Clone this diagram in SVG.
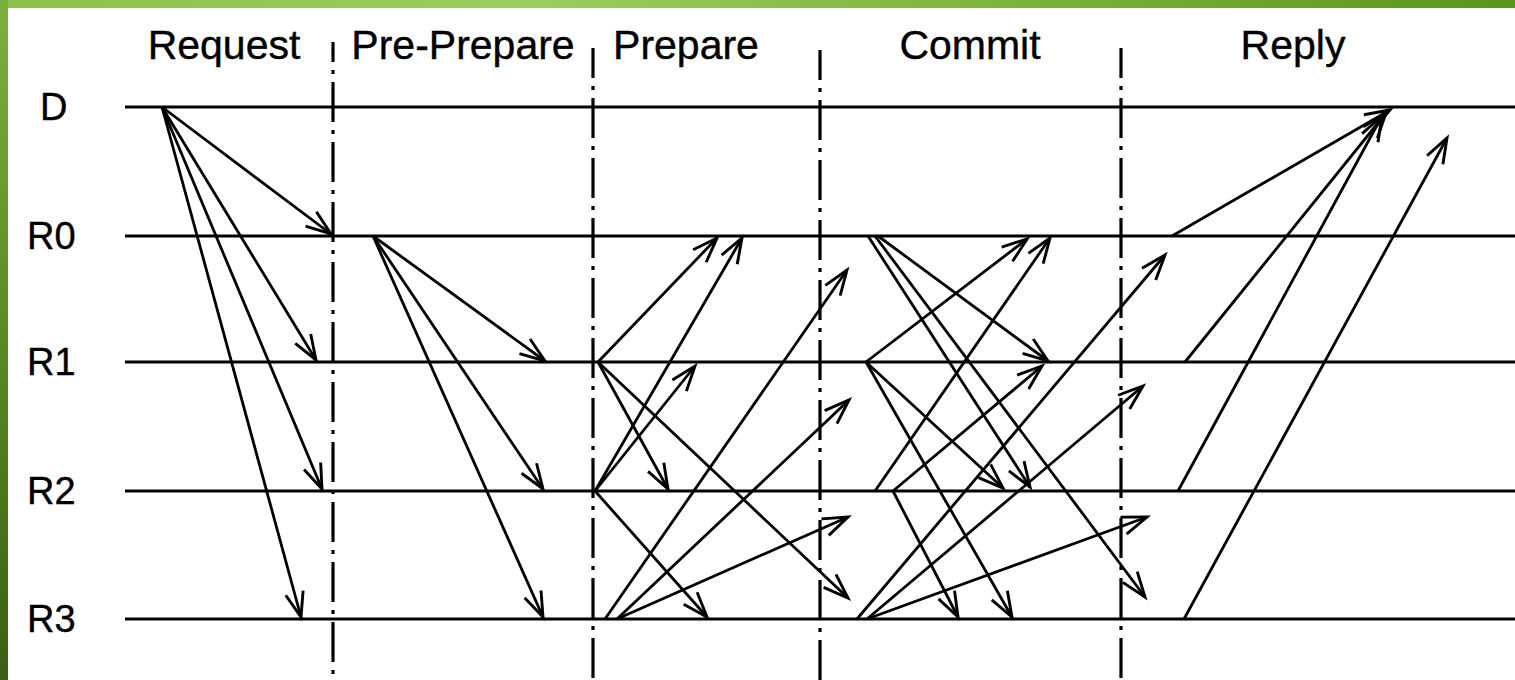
<svg xmlns="http://www.w3.org/2000/svg" width="1515" height="680" viewBox="0 0 1515 680">
  <style>
    .lbl { font-family: "Liberation Sans", Arial, Helvetica, sans-serif; font-size: 38px; fill: #000; stroke: #000; stroke-width: 0.4; }
    .hdr { font-family: "Liberation Sans", Arial, Helvetica, sans-serif; font-size: 41px; fill: #000; stroke: #000; stroke-width: 0.4; text-anchor: middle; }
    .life { stroke: #000; stroke-width: 3; fill: none; }
    .div { stroke: #000; stroke-width: 3.2; stroke-dasharray: 40 8 4 8; fill: none; }
    .msg { stroke: #000; stroke-width: 2.8; fill: none; marker-end: url(#ah); }
  </style>
  <defs>
    <marker id="ah" markerUnits="userSpaceOnUse" viewBox="-30 -15 35 30" markerWidth="35" markerHeight="30" refX="0" refY="0" orient="auto" overflow="visible">
      <path d="M -25,-9 L 0,0 L -25,9" fill="none" stroke="#000" stroke-width="2.9" stroke-linejoin="miter"/>
    </marker>
    <linearGradient id="gTop" x1="0" y1="0" x2="1" y2="0">
      <stop offset="0" stop-color="#8cc04c"/>
      <stop offset="0.35" stop-color="#9ccd5e"/>
      <stop offset="1" stop-color="#5a961c"/>
    </linearGradient>
    <linearGradient id="gLeft" x1="0" y1="0" x2="0" y2="1">
      <stop offset="0" stop-color="#7bb03e"/>
      <stop offset="0.5" stop-color="#5a8a24"/>
      <stop offset="1" stop-color="#3b5f14"/>
    </linearGradient>
  </defs>

  <rect x="0" y="0" width="1515" height="680" fill="#fff"/>
  <g id="frame">
    <rect x="0" y="0" width="1515" height="8" fill="url(#gTop)"/>
    <rect x="0" y="0" width="8" height="680" fill="url(#gLeft)"/>
  </g>

  <g id="phase-headers">
    <g id="hdr-request"><text class="hdr" x="224" y="59">Request</text></g>
    <g id="hdr-preprepare"><text class="hdr" x="463" y="59">Pre-Prepare</text></g>
    <g id="hdr-prepare"><text class="hdr" x="686" y="59">Prepare</text></g>
    <g id="hdr-commit"><text class="hdr" x="970" y="59">Commit</text></g>
    <g id="hdr-reply"><text class="hdr" x="1293" y="59">Reply</text></g>
  </g>

  <g id="dividers">
    <line class="div" x1="333" y1="42" x2="333" y2="680" stroke-dashoffset="20"/>
    <line class="div" x1="593" y1="48" x2="593" y2="680" stroke-dashoffset="10"/>
    <line class="div" x1="820" y1="50" x2="820" y2="680" stroke-dashoffset="10"/>
    <line class="div" x1="1121" y1="48" x2="1121" y2="680" stroke-dashoffset="10"/>
  </g>

  <g id="node-D">
    <text class="lbl" x="40" y="120">D</text>
    <line class="life" x1="125" y1="107" x2="1515" y2="107"/>
  </g>
  <g id="node-R0">
    <text class="lbl" x="27" y="249">R0</text>
    <line class="life" x1="125" y1="236" x2="1515" y2="236"/>
  </g>
  <g id="node-R1">
    <text class="lbl" x="27" y="375">R1</text>
    <line class="life" x1="125" y1="362" x2="1515" y2="362"/>
  </g>
  <g id="node-R2">
    <text class="lbl" x="27" y="504">R2</text>
    <line class="life" x1="125" y1="491" x2="1515" y2="491"/>
  </g>
  <g id="node-R3">
    <text class="lbl" x="27" y="632">R3</text>
    <line class="life" x1="125" y1="619" x2="1515" y2="619"/>
  </g>

  <g id="connectors">
    <!-- Request -->
    <line class="msg" x1="162" y1="107" x2="331" y2="234"/>
    <line class="msg" x1="162" y1="107" x2="316" y2="360"/>
    <line class="msg" x1="162" y1="107" x2="322" y2="489"/>
    <line class="msg" x1="162" y1="107" x2="301" y2="617"/>
    <!-- Pre-Prepare -->
    <line class="msg" x1="373" y1="236" x2="545" y2="361"/>
    <line class="msg" x1="373" y1="236" x2="543" y2="489"/>
    <line class="msg" x1="373" y1="236" x2="543" y2="617"/>
    <!-- Prepare -->
    <line class="msg" x1="598" y1="362" x2="717" y2="238"/>
    <line class="msg" x1="598" y1="362" x2="668" y2="489"/>
    <line class="msg" x1="598" y1="362" x2="848" y2="598"/>
    <line class="msg" x1="595" y1="491" x2="742" y2="238"/>
    <line class="msg" x1="595" y1="491" x2="695" y2="366"/>
    <line class="msg" x1="595" y1="491" x2="707" y2="617"/>
    <line class="msg" x1="605" y1="619" x2="847" y2="270"/>
    <line class="msg" x1="617" y1="619" x2="849" y2="400"/>
    <line class="msg" x1="617" y1="619" x2="848" y2="517"/>
    <!-- Commit -->
    <line class="msg" x1="868" y1="236" x2="1030" y2="487"/>
    <line class="msg" x1="875" y1="236" x2="1145" y2="597"/>
    <line class="msg" x1="878" y1="236" x2="1048" y2="361"/>
    <line class="msg" x1="866" y1="362" x2="1027" y2="239"/>
    <line class="msg" x1="866" y1="362" x2="1003" y2="488"/>
    <line class="msg" x1="866" y1="362" x2="1012" y2="617"/>
    <line class="msg" x1="875" y1="491" x2="1050" y2="238"/>
    <line class="msg" x1="893" y1="491" x2="1042" y2="366"/>
    <line class="msg" x1="893" y1="491" x2="958" y2="617"/>
    <line class="msg" x1="857" y1="619" x2="1165" y2="255"/>
    <line class="msg" x1="867" y1="619" x2="1143" y2="386"/>
    <line class="msg" x1="867" y1="619" x2="1147" y2="517"/>
    <!-- Reply -->
    <line class="msg" x1="1172" y1="236" x2="1390" y2="110"/>
    <line class="msg" x1="1185" y1="362" x2="1386" y2="113"/>
    <line class="msg" x1="1178" y1="491" x2="1382" y2="116"/>
    <line class="msg" x1="1184" y1="619" x2="1447" y2="138"/>
  </g>
</svg>
